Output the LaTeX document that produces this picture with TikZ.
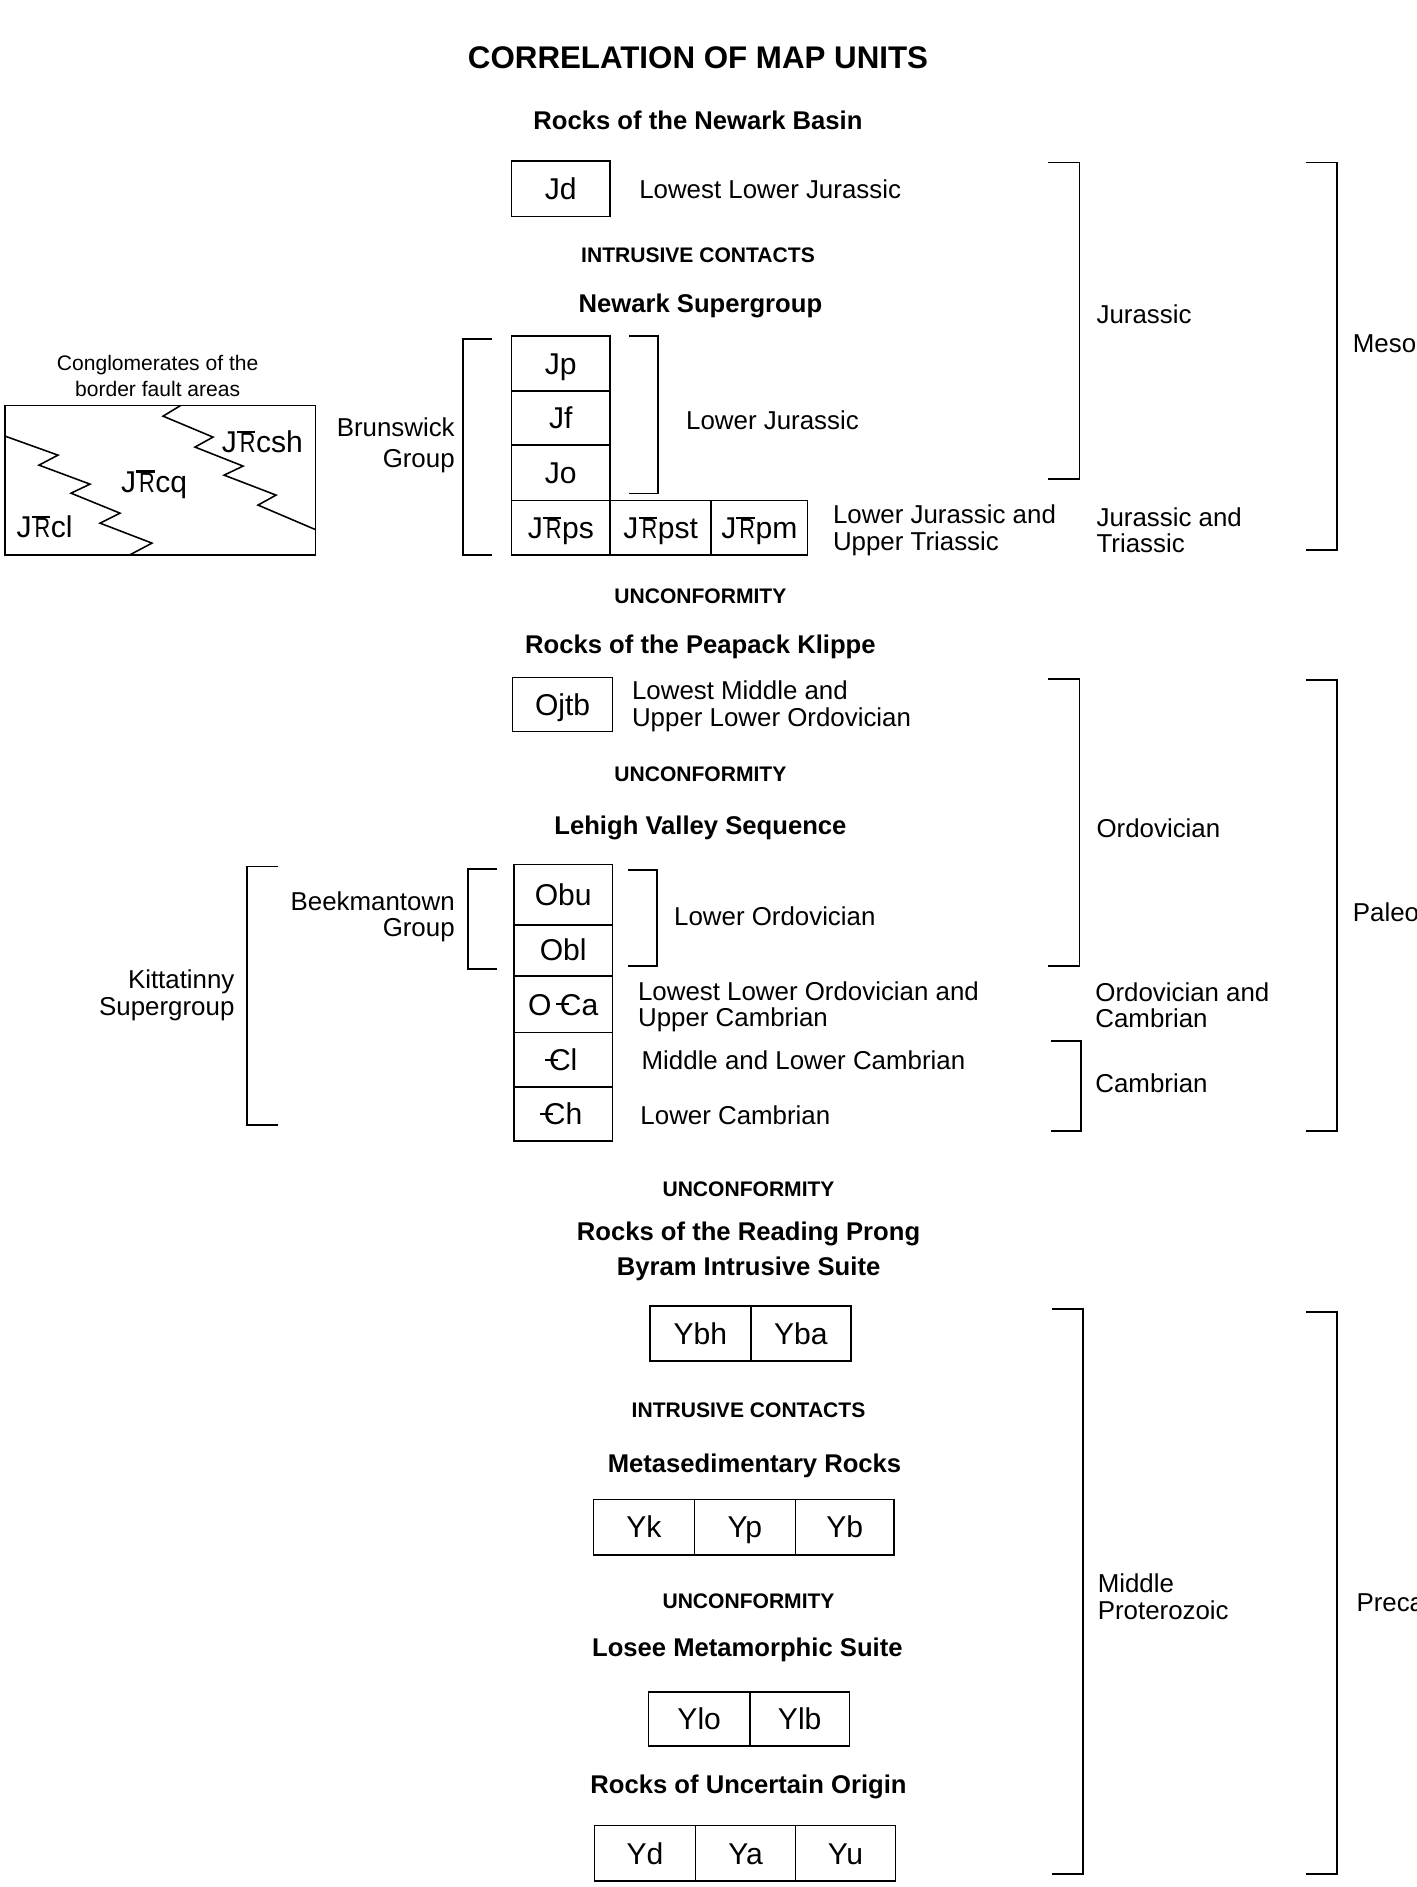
\documentclass[tikz,border=0pt]{standalone}
\usepackage{fontspec}
\setmainfont{Liberation Sans}
\newcommand\TR{\makebox[0pt][l]{\rule[0.65em]{0.62em}{0.07em}}\kern0.1em\scalebox{0.72}[0.93]{R}\kern0.02em}
\newcommand\Cb{\makebox[0pt][l]{\kern-0.12em\rule[0.325em]{0.42em}{0.065em}}C}
\newcommand\fTitle{\fontsize{26}{28}\selectfont\bfseries}
\newcommand\fHead{\fontsize{21.3}{24}\selectfont\bfseries}
\newcommand\fSmall{\fontsize{17.5}{20}\selectfont\bfseries}
\newcommand\fLab{\fontsize{21.5}{22}\selectfont}
\newcommand\fSym{\fontsize{25}{26}\selectfont}
\newcommand\fCong{\fontsize{17.5}{21}\selectfont}
\tikzset{
  titletext/.style={font=\fTitle, inner sep=0pt, text height=18.6pt, text depth=0pt},
  head/.style={font=\fHead, inner sep=0pt, text height=15.3pt, text depth=0pt},
  smallhead/.style={font=\fSmall, inner sep=0pt, text height=12.5pt, text depth=0pt},
  lab/.style={font=\fLab, inner sep=0pt, anchor=west, text height=15.4pt, text depth=0pt},
  labtwo/.style={font=\fLab, inner sep=0pt, anchor=west, align=left},
  labtwor/.style={font=\fLab, inner sep=0pt, anchor=east, align=right},
  unit/.style={draw, line width=1.3pt, font=\fSym, inner sep=0pt, text height=17.9pt, text depth=0pt},
  brk/.style={line width=1.5pt},
  zig/.style={line width=1.3pt, line join=miter},
  symlab/.style={font=\fSym, inner sep=0pt, text height=17.9pt, text depth=0pt},
}
\begin{document}
\begin{tikzpicture}[x=1pt,y=-1pt]
\useasboundingbox (0,0) rectangle (1177,1568);
% Title
\node[titletext] (title) at (580,48) {CORRELATION OF MAP UNITS};
% ---------- Newark Basin ----------
\node[head] (newarkbasin) at (580,100) {Rocks of the Newark Basin};
\node[unit, minimum width=82pt, minimum height=46pt] (jd) at (466,157) {Jd};
\node[lab] (jdlab) at (531,157) {Lowest Lower Jurassic};
\node[smallhead] (ic1) at (580,212) {INTRUSIVE CONTACTS};
\node[head] (newarksg) at (582,252) {Newark Supergroup};
\node[unit, minimum width=82pt, minimum height=46pt] (jp) at (466,302) {Jp};
\node[unit, minimum width=82pt, minimum height=45pt] (jf) at (466,347.5) {Jf};
\node[unit, minimum width=82pt, minimum height=46pt] (jo) at (466,393) {Jo};
\node[unit, minimum width=82pt, minimum height=45pt] (jtrps) at (466,438.5) {J\TR ps};
\node[unit, minimum width=84pt, minimum height=45pt] (jtrpst) at (549,438.5) {J\TR pst};
\node[unit, minimum width=80pt, minimum height=45pt] (jtrpm) at (631,438.5) {J\TR pm};
\draw[brk] (523,279) -- (547,279) -- (547,410) -- (523,410);
\node[lab] (lowjur) at (570,349) {Lower Jurassic};
\draw[brk] (409,282) -- (385,282) -- (385,461) -- (409,461);
\node[labtwor, font=\fontsize{21.5}{26}\selectfont] (brunswick) at (378,370) {Brunswick\\Group};
\draw[brk] (871,135) -- (897,135) -- (897,398) -- (871,398);
\node[lab] (jurassic) at (911,261) {Jurassic};
\node[labtwo] (ljut) at (692,440.5) {Lower Jurassic and\\Upper Triassic};
\node[labtwo] (jut) at (911,440.5) {Jurassic and\\Triassic};
\draw[brk] (1085,135) -- (1111,135) -- (1111,457) -- (1085,457);
\node[lab] (mesozoic) at (1124,285) {Mesozoic};
% Conglomerates
\node[font=\fCong, align=center, inner sep=0pt] (conglab) at (131,312.5) {Conglomerates of the\\border fault areas};
\draw[line width=1.3pt] (4,337) rectangle (262,461);
\draw[zig] (4.2,362.4) -- (48.2,378.2) -- (32.4,386.5) -- (74.8,402.3) -- (59,409.8) -- (99.7,426.4) -- (83.1,434.7) -- (126.3,451.3) -- (108,461);
\draw[zig] (150,337) -- (135.5,345.8) -- (177,363.2) -- (162,371.5) -- (202,387.3) -- (186.2,394.8) -- (229.4,411.4) -- (214.4,419.7) -- (262,440);
\node[symlab] (jtrcsh) at (218,367) {J\TR csh};
\node[symlab] (jtrcq) at (128,400) {J\TR cq};
\node[symlab] (jtrcl) at (37,438) {J\TR cl};
% ---------- Peapack Klippe ----------
\node[smallhead] (unc1) at (582,495) {UNCONFORMITY};
\node[head] (peapack) at (582,535) {Rocks of the Peapack Klippe};
\node[unit, minimum width=83pt, minimum height=45pt] (ojtb) at (467.5,585.5) {Ojtb};
\node[labtwo] (ojtblab) at (525,587) {Lowest Middle and\\Upper Lower Ordovician};
\node[smallhead] (unc2) at (582,643) {UNCONFORMITY};
\node[head] (lehigh) at (582,686) {Lehigh Valley Sequence};
\draw[brk] (871,564) -- (897,564) -- (897,803) -- (871,803);
\node[lab] (ordovician) at (911,688) {Ordovician};
\draw[brk] (1085,565) -- (1111,565) -- (1111,940) -- (1085,940);
\node[lab] (paleozoic) at (1124,758) {Paleozoic};
% Lehigh boxes
\node[unit, minimum width=82pt, minimum height=50pt] (obu) at (468,743.5) {Obu};
\node[unit, minimum width=82pt, minimum height=42pt] (obl) at (468,789.5) {Obl};
\node[unit, minimum width=82pt, minimum height=47pt] (oca) at (468,834.5) {O \Cb a};
\node[unit, minimum width=82pt, minimum height=45pt] (cl) at (468,880.5) {\Cb l};
\node[unit, minimum width=82pt, minimum height=45pt] (ch) at (468,925.5) {\Cb h};
\draw[brk] (522,723) -- (546,723) -- (546,803) -- (522,803);
\node[lab] (lowordo) at (560,761) {Lower Ordovician};
\draw[brk] (413,722) -- (389,722) -- (389,805) -- (413,805);
\node[labtwor] (beekman) at (378,762) {Beekmantown\\Group};
\draw[brk] (231,720) -- (205,720) -- (205,935) -- (231,935);
\node[labtwor] (kitt) at (195,827) {Kittatinny\\Supergroup};
\node[labtwo] (ocalab) at (530,836.5) {Lowest Lower Ordovician and\\Upper Cambrian};
\node[lab] (cllab) at (533,881) {Middle and Lower Cambrian};
\node[lab] (chlab) at (532,927) {Lower Cambrian};
\node[labtwo] (ordcam) at (910,835.5) {Ordovician and\\Cambrian};
\draw[brk] (873,865) -- (898,865) -- (898,940) -- (873,940);
\node[lab] (cambrian) at (910,900) {Cambrian};
% ---------- Reading Prong ----------
\node[smallhead] (unc3) at (622,988) {UNCONFORMITY};
\node[head] (reading) at (622,1023) {Rocks of the Reading Prong};
\node[head] (byram) at (622,1052) {Byram Intrusive Suite};
\node[unit, minimum width=84pt, minimum height=46pt] (ybh) at (582,1108) {Ybh};
\node[unit, minimum width=83pt, minimum height=46pt] (yba) at (665.5,1108) {Yba};
\node[smallhead] (ic2) at (622,1172) {INTRUSIVE CONTACTS};
\node[head] (metased) at (627,1216) {Metasedimentary Rocks};
\node[unit, minimum width=84pt, minimum height=46pt] (yk) at (535,1269) {Yk};
\node[unit, minimum width=84pt, minimum height=46pt] (yp) at (619,1269) {Yp};
\node[unit, minimum width=82pt, minimum height=46pt] (yb) at (702,1269) {Yb};
\node[smallhead] (unc4) at (622,1330) {UNCONFORMITY};
\node[head] (losee) at (621,1369) {Losee Metamorphic Suite};
\node[unit, minimum width=84pt, minimum height=45pt] (ylo) at (581,1428.5) {Ylo};
\node[unit, minimum width=83pt, minimum height=45pt] (ylb) at (664.5,1428.5) {Ylb};
\node[head] (uncertain) at (622,1483) {Rocks of Uncertain Origin};
\node[unit, minimum width=84pt, minimum height=46pt] (yd) at (536,1540) {Yd};
\node[unit, minimum width=83pt, minimum height=46pt] (ya) at (619.5,1540) {Ya};
\node[unit, minimum width=83pt, minimum height=46pt] (yu) at (702.5,1540) {Yu};
\draw[brk] (874,1088) -- (900,1088) -- (900,1557) -- (874,1557);
\node[labtwo] (midprot) at (912,1327) {Middle\\Proterozoic};
\draw[brk] (1085,1090) -- (1111,1090) -- (1111,1557) -- (1085,1557);
\node[lab] (precambrian) at (1127,1331) {Precambrian};
\end{tikzpicture}
\end{document}
